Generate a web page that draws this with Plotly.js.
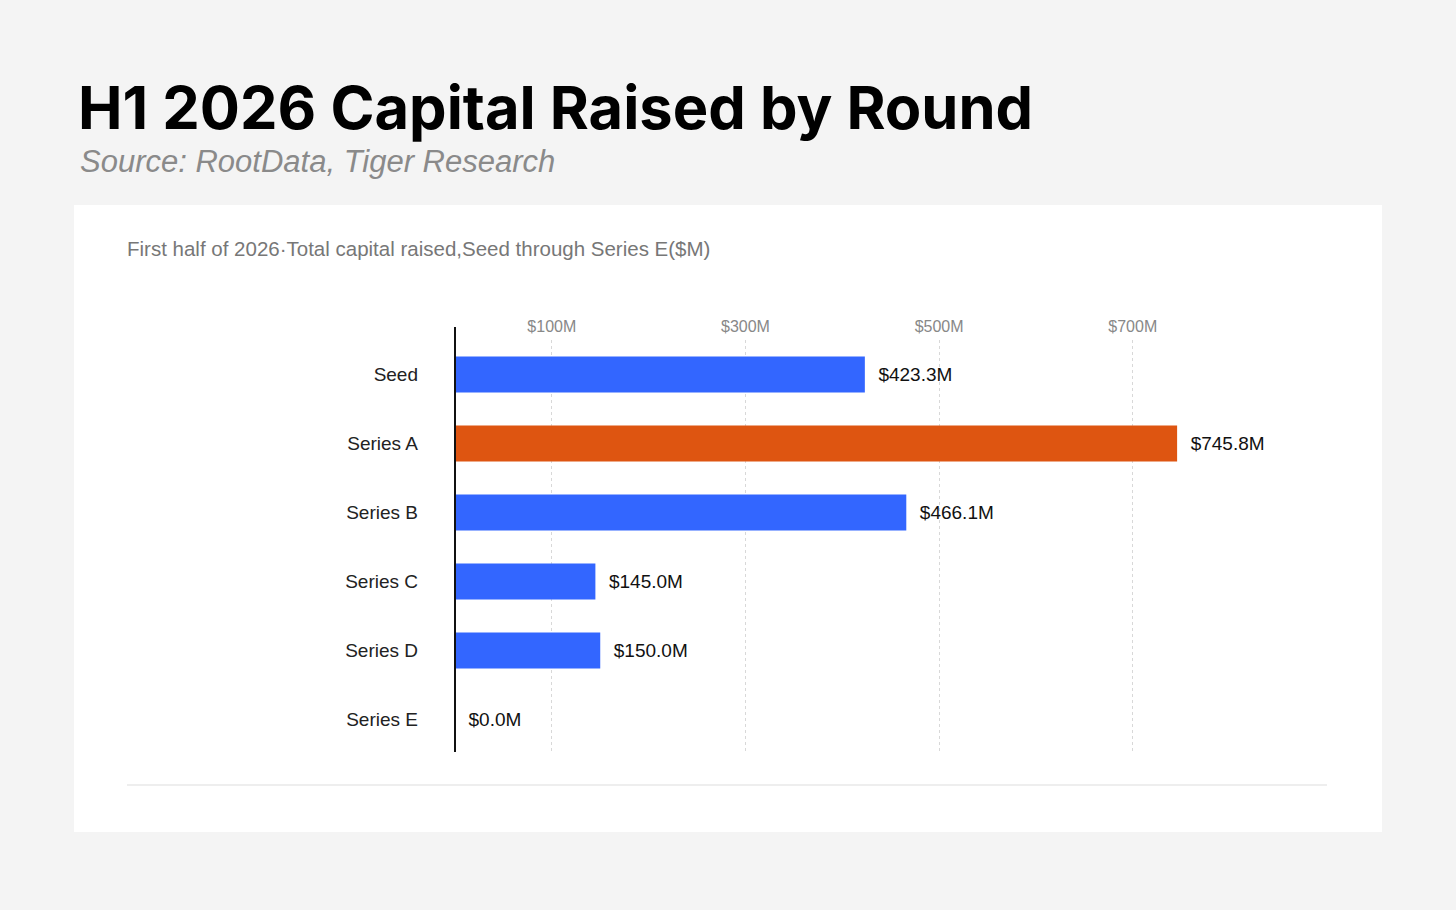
<!DOCTYPE html>
<html>
<head>
<meta charset="utf-8">
<script src="https://cdn.plot.ly/plotly-3.0.1.min.js"></script>
<style>
  html, body { margin: 0; padding: 0; background: #f4f4f4; }
  #chart { width: 1456px; height: 910px; }
</style>
</head>
<body>
<div id="chart"></div>
<script>
const rounds = ['Seed', 'Series A', 'Series B', 'Series C', 'Series D', 'Series E'];
const raised = [423.3, 745.8, 466.1, 145.0, 150.0, 0.0];
const barColors = ['#3366ff', '#de5511', '#3366ff', '#3366ff', '#3366ff', '#3366ff'];
const tickVals = [100, 300, 500, 700];
const tickText = ['$100M', '$300M', '$500M', '$700M'];

const W = 1456, H = 910;
const L = 455, R = 178, T = 340, B = 156;
const PW = W - L - R, PH = H - T - B;
// pixel -> paper (paper is the plot area in plotly)
const px = x => (x - L) / PW;
const py = y => (H - B - y) / PH;

const trace = {
    type: 'bar',
    orientation: 'h',
    y: rounds,
    x: raised,
    marker: { color: barColors },
    text: raised.map(v => '  $' + v.toFixed(1) + 'M'),
    textposition: 'outside',
    textfont: { size: 19, color: '#111', family: 'Liberation Sans, Arial, sans-serif' },
    cliponaxis: false,
    hoverinfo: 'none',
};

const layout = {
    width: W,
    height: H,
    paper_bgcolor: '#f4f4f4',
    plot_bgcolor: 'rgba(0,0,0,0)',
    margin: { l: L, r: R, t: T, b: B },
    showlegend: false,
    bargap: 0.48,
    font: { family: 'Liberation Sans, Arial, sans-serif' },
    xaxis: {
        range: [0, 850],
        side: 'top',
        tickvals: tickVals,
        ticktext: tickText,
        ticks: '',
        ticklabelstandoff: 4,
        tickfont: { size: 16, color: '#888' },
        showgrid: true,
        gridcolor: '#d8d8d8',
        griddash: 'dot',
        zeroline: false,
        fixedrange: true,
    },
    yaxis: {
        autorange: 'reversed',
        ticks: '',
        tickfont: { size: 19, color: '#222' },
        ticklabelstandoff: 36,
        showgrid: false,
        zeroline: false,
        fixedrange: true,
    },
    shapes: [
        // white card
        { type: 'rect', xref: 'paper', yref: 'paper', layer: 'below',
          x0: px(74), x1: px(1382), y0: py(832), y1: py(205),
          fillcolor: '#ffffff', line: { width: 0 } },
        // axis line
        { type: 'line', xref: 'paper', yref: 'paper',
          x0: px(455), x1: px(455), y0: py(752), y1: py(327),
          line: { color: '#111', width: 2 } },
        // bottom rule
        { type: 'line', xref: 'paper', yref: 'paper',
          x0: px(127), x1: px(1327), y0: py(785), y1: py(785),
          line: { color: '#dddddd', width: 1 } },
    ],
    annotations: [
        { text: '<b>H1 2026 Capital Raised by Round</b>', xref: 'paper', yref: 'paper',
          x: px(76), y: py(107), xanchor: 'left', yanchor: 'middle', showarrow: false,
          font: { size: 59.6, color: '#000', family: 'Inter, Liberation Sans, Arial, sans-serif' } },
        { text: '<i>Source: RootData, Tiger Research</i>', xref: 'paper', yref: 'paper',
          x: px(78), y: py(161), xanchor: 'left', yanchor: 'middle', showarrow: false,
          font: { size: 31, color: '#8a8a8a' } },
        { text: 'First half of 2026·Total capital raised,Seed through Series E($M)', xref: 'paper', yref: 'paper',
          x: px(125), y: py(249), xanchor: 'left', yanchor: 'middle', showarrow: false,
          font: { size: 20.5, color: '#777' } },
    ],
};

Plotly.newPlot('chart', [trace], layout, { displayModeBar: false, staticPlot: true });
</script>
</body>
</html>
